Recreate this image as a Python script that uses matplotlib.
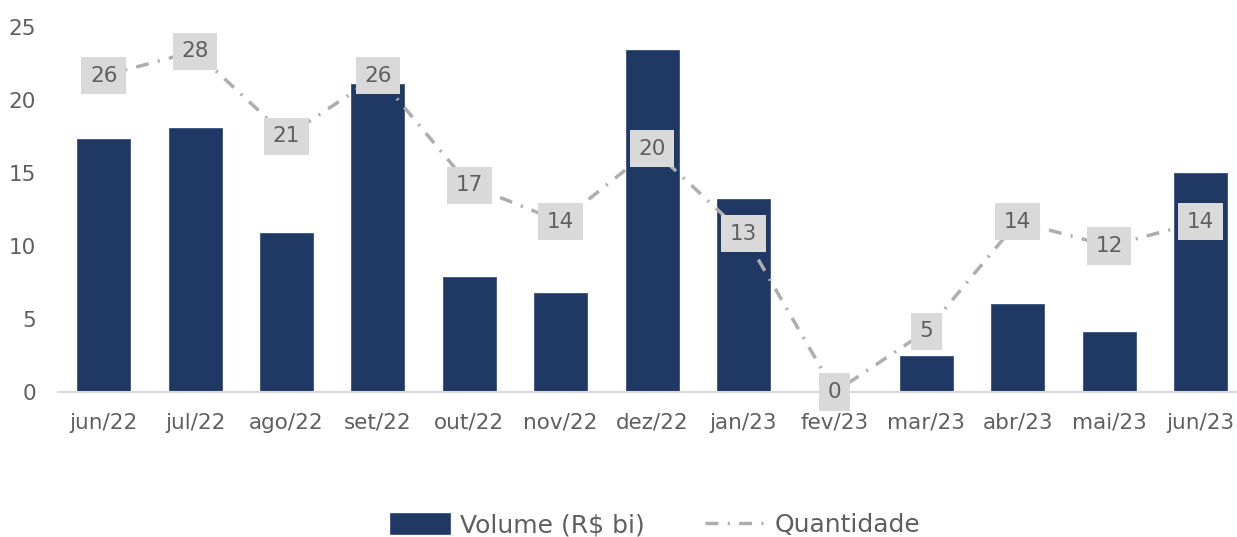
import matplotlib
matplotlib.use("Agg")
import matplotlib.pyplot as plt

# data
months = ["jun/22", "jul/22", "ago/22", "set/22", "out/22", "nov/22", "dez/22",
          "jan/23", "fev/23", "mar/23", "abr/23", "mai/23", "jun/23"]
volume = [17.3, 18.1, 10.9, 21.1, 7.9, 6.8, 23.4, 13.2, 0.0, 2.5, 6.0, 4.1, 15.0]
quantidade = [26, 28, 21, 26, 17, 14, 20, 13, 0, 5, 14, 12, 14]

BAR = "#203864"
LINE = "#AEAEAE"
TXT = "#5F5F5F"

plt.rcParams["font.family"] = ["DejaVu Sans"]

fig = plt.figure(figsize=(12.37, 5.37), dpi=100)
ax = fig.add_axes([58 / 1237, 1 - 392 / 537, 1 - 58 / 1237, (392 - 27) / 537])

x = list(range(len(months)))
ax.bar(x, volume, width=0.58, color=BAR, edgecolor="#3A5282", linewidth=0.6,
       label="Volume (R\\$ bi)", zorder=2)
ax.set_xlim(-0.5, 12.4)
ax.set_ylim(0, 25)
ax.set_yticks([0, 5, 10, 15, 20, 25])
ax.set_xticks(x)
ax.set_xticklabels(months)
ax.tick_params(axis="both", length=0, labelsize=15.5, labelcolor=TXT)
ax.tick_params(axis="y", pad=16)
ax.tick_params(axis="x", pad=15)
for s in ["top", "right", "left"]:
    ax.spines[s].set_visible(False)
ax.spines["bottom"].set_color("#D9D9D9")
ax.spines["bottom"].set_linewidth(1.5)

ax2 = ax.twinx()
ax2.set_ylim(0, 30)
ax2.plot(x, quantidade, color=LINE, linewidth=2.5, linestyle=(0, (3.7, 2.7, 0.6, 2.7)),
         label="Quantidade", zorder=3)
ax2.set_yticks([])
for s in ax2.spines.values():
    s.set_visible(False)
for xi, q in zip(x, quantidade):
    ax2.text(xi, q, str(q), ha="center", va="center", fontsize=15.5, color=TXT,
             bbox=dict(boxstyle="square,pad=0.4", facecolor="#D9D9D9", edgecolor="none"),
             zorder=4, clip_on=False)

h1, l1 = ax.get_legend_handles_labels()
h2, l2 = ax2.get_legend_handles_labels()
fig.legend(h1 + h2, l1 + l2, loc="center", bbox_to_anchor=(655 / 1237, 1 - 525 / 537),
           ncol=2, frameon=False, fontsize=18, labelcolor=TXT, handlelength=2.4,
           handleheight=0.9, columnspacing=2.4, handletextpad=0.4)

fig.savefig("out.png", dpi=100)
